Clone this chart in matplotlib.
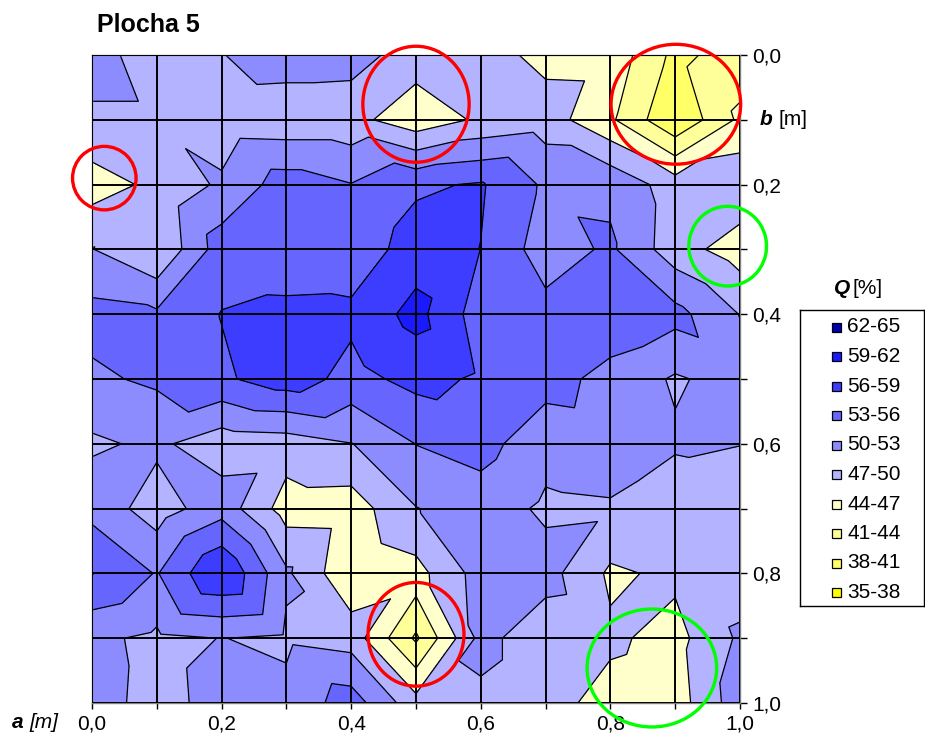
import numpy as np
import matplotlib
matplotlib.use("Agg")
import matplotlib.pyplot as plt
import matplotlib.tri as mtri
from matplotlib.patches import Ellipse, Rectangle

plt.rcParams['font.family'] = ['Liberation Sans', 'DejaVu Sans']

# grid positions [m]
a_pos = [0.0, 0.1, 0.2, 0.3, 0.4, 0.5, 0.6, 0.7, 0.8, 0.9, 1.0]
b_pos = [0.0, 0.1, 0.2, 0.3, 0.4, 0.5, 0.6, 0.7, 0.8, 0.9, 1.0]

# measured Q [%] along a, one list per b row
q_b00 = [51.0, 48.7, 49.9, 51.5, 51.3, 48.5, 48.3, 46.1, 46.0, 40.2, 42.4]
q_b01 = [49.6, 49.6, 48.2, 48.0, 48.0, 45.1, 47.5, 48.5, 44.5, 38.3, 44.6]
q_b02 = [45.6, 47.7, 50.5, 54.5, 53.1, 55.5, 56.3, 52.5, 52.3, 48.5, 49.3]
q_b03 = [50.1, 47.1, 54.6, 54.5, 54.0, 57.5, 55.95, 51.5, 53.5, 48.3, 45.5]
q_b04 = [54.0, 53.5, 56.1, 56.6, 56.7, 60.0, 54.5, 54.0, 55.0, 54.0, 49.9]
q_b05 = [52.5, 53.5, 55.5, 57.6, 55.0, 56.9, 55.6, 54.2, 52.0, 49.65, 51.2]
q_b06 = [49.5, 50.6, 48.2, 48.5, 49.9, 53.05, 54.1, 51.0, 51.5, 50.4, 50.05]
q_b07 = [52.0, 48.5, 51.8, 45.6, 45.45, 49.9, 51.5, 49.5, 49.7, 48.0, 48.5]
q_b08 = [56.1, 52.8, 59.05, 50.5, 44.5, 45.9, 51.3, 51.2, 46.5, 47.6, 48.5]
q_b09 = [50.6, 49.4, 50.05, 49.5, 48.7, 40.5, 51.0, 48.0, 47.5, 46.0, 50.5]
q_b10 = [50.8, 49.3, 50.7, 50.8, 54.5, 48.1, 49.3, 48.0, 46.0, 45.5, 51.8]

levels = [35, 38, 41, 44, 47, 50, 53, 56, 59, 62, 65]
band_labels = ['35-38', '38-41', '41-44', '44-47', '47-50',
               '50-53', '53-56', '56-59', '59-62', '62-65']
band_colors = ['#FFFF00', '#FFFF66', '#FFFF99', '#FFFFCC', '#B3B3FF',
               '#8C8CFF', '#6666FF', '#3D3DFF', '#1A1AFF', '#0000B0']

x_ticklabels = ['0,0', '', '0,2', '', '0,4', '', '0,6', '', '0,8', '', '1,0']
y_ticklabels = ['0,0', '', '0,2', '', '0,4', '', '0,6', '', '0,8', '', '1,0']

# highlighted spots: (a, b, width, height, colour)
highlights = [
    (0.019, 0.190, 0.098, 0.098, '#FF0000'),
    (0.500, 0.076, 0.164, 0.179, '#FF0000'),
    (0.901, 0.076, 0.200, 0.185, '#FF0000'),
    (0.500, 0.894, 0.148, 0.160, '#FF0000'),
    (0.981, 0.295, 0.120, 0.123, '#00FF00'),
    (0.864, 0.946, 0.200, 0.182, '#00FF00'),
]

Q = np.array([q_b00, q_b01, q_b02, q_b03, q_b04, q_b05,
              q_b06, q_b07, q_b08, q_b09, q_b10])
A, B = np.meshgrid(a_pos, b_pos)
nb, na = Q.shape

# split each cell into two triangles along the diagonal with the higher mean
tris = []
for j in range(nb - 1):
    for i in range(na - 1):
        p00 = j * na + i
        p10 = j * na + i + 1
        p01 = (j + 1) * na + i
        p11 = (j + 1) * na + i + 1
        if Q[j, i] + Q[j + 1, i + 1] >= Q[j, i + 1] + Q[j + 1, i]:
            tris += [[p00, p10, p11], [p00, p11, p01]]
        else:
            tris += [[p00, p10, p01], [p10, p11, p01]]
tri = mtri.Triangulation(A.ravel(), B.ravel(), np.array(tris))

fig = plt.figure(figsize=(9.25, 7.4), dpi=100)
W, H = 925.0, 740.0
ax = fig.add_axes([92 / W, 1 - 703 / H, 648 / W, 648 / H])

ax.tricontourf(tri, Q.ravel(), levels=levels, colors=band_colors)
ax.tricontour(tri, Q.ravel(), levels=levels, colors='black', linewidths=0.9)

for v in a_pos:
    ax.axvline(v, color='black', lw=1.4, zorder=3)
for v in b_pos:
    ax.axhline(v, color='black', lw=1.4, zorder=3)

ax.set_xlim(0, 1)
ax.set_ylim(1, 0)
for s in ax.spines.values():
    s.set_color('#808080')
    s.set_linewidth(1.0)

ax.set_xticks(a_pos)
ax.set_xticklabels(x_ticklabels)
ax.yaxis.tick_right()
ax.set_yticks(b_pos)
ax.set_yticklabels(y_ticklabels)
ax.tick_params(axis='x', direction='out', length=4, width=1, pad=4,
               labelsize=15, colors='black')
ax.tick_params(axis='y', direction='out', length=5, width=1, pad=4,
               labelsize=15, colors='black')

# axis names
ax.text(1.030, 0.1, 'b', transform=ax.get_yaxis_transform(),
        fontsize=15, fontweight='bold', fontstyle='italic',
        va='center', ha='left')
ax.text(1.060, 0.1, '[m]', transform=ax.get_yaxis_transform(),
        fontsize=15, va='center', ha='left')
fig.text(12 / W, 1 - 722 / H, 'a', fontsize=15, fontweight='bold',
         fontstyle='italic', va='center', ha='left')
fig.text(29 / W, 1 - 722 / H, '[m]', fontsize=15, fontstyle='italic',
         va='center', ha='left')

fig.text(97 / W, 1 - 25 / H, 'Plocha 5', fontsize=18, fontweight='bold',
         va='center', ha='left')

for (ca, cb, w, h, col) in highlights:
    ax.add_patch(Ellipse((ca, cb), w, h, fill=False, edgecolor=col,
                         lw=2.4, zorder=6, clip_on=False))

# legend
fig.text(834 / W, 1 - 288 / H, 'Q', fontsize=15, fontweight='bold',
         fontstyle='italic', va='center', ha='left')
fig.text(853 / W, 1 - 288 / H, '[%]', fontsize=15, va='center', ha='left')
lax = fig.add_axes([800 / W, 1 - 606 / H, 124 / W, 296 / H])
lax.set_xlim(0, 124)
lax.set_ylim(296, 0)
lax.set_xticks([])
lax.set_yticks([])
for s in lax.spines.values():
    s.set_color('black')
    s.set_linewidth(1.0)
n = len(band_labels)
for k in range(n):
    idx = n - 1 - k
    yc = 17 + k * 29.5
    lax.add_patch(Rectangle((32, yc - 4.5), 9, 9, facecolor=band_colors[idx],
                            edgecolor='black', lw=0.9))
    lax.text(47, yc, band_labels[idx], fontsize=15, va='center', ha='left')

fig.savefig('out.png', dpi=100)
